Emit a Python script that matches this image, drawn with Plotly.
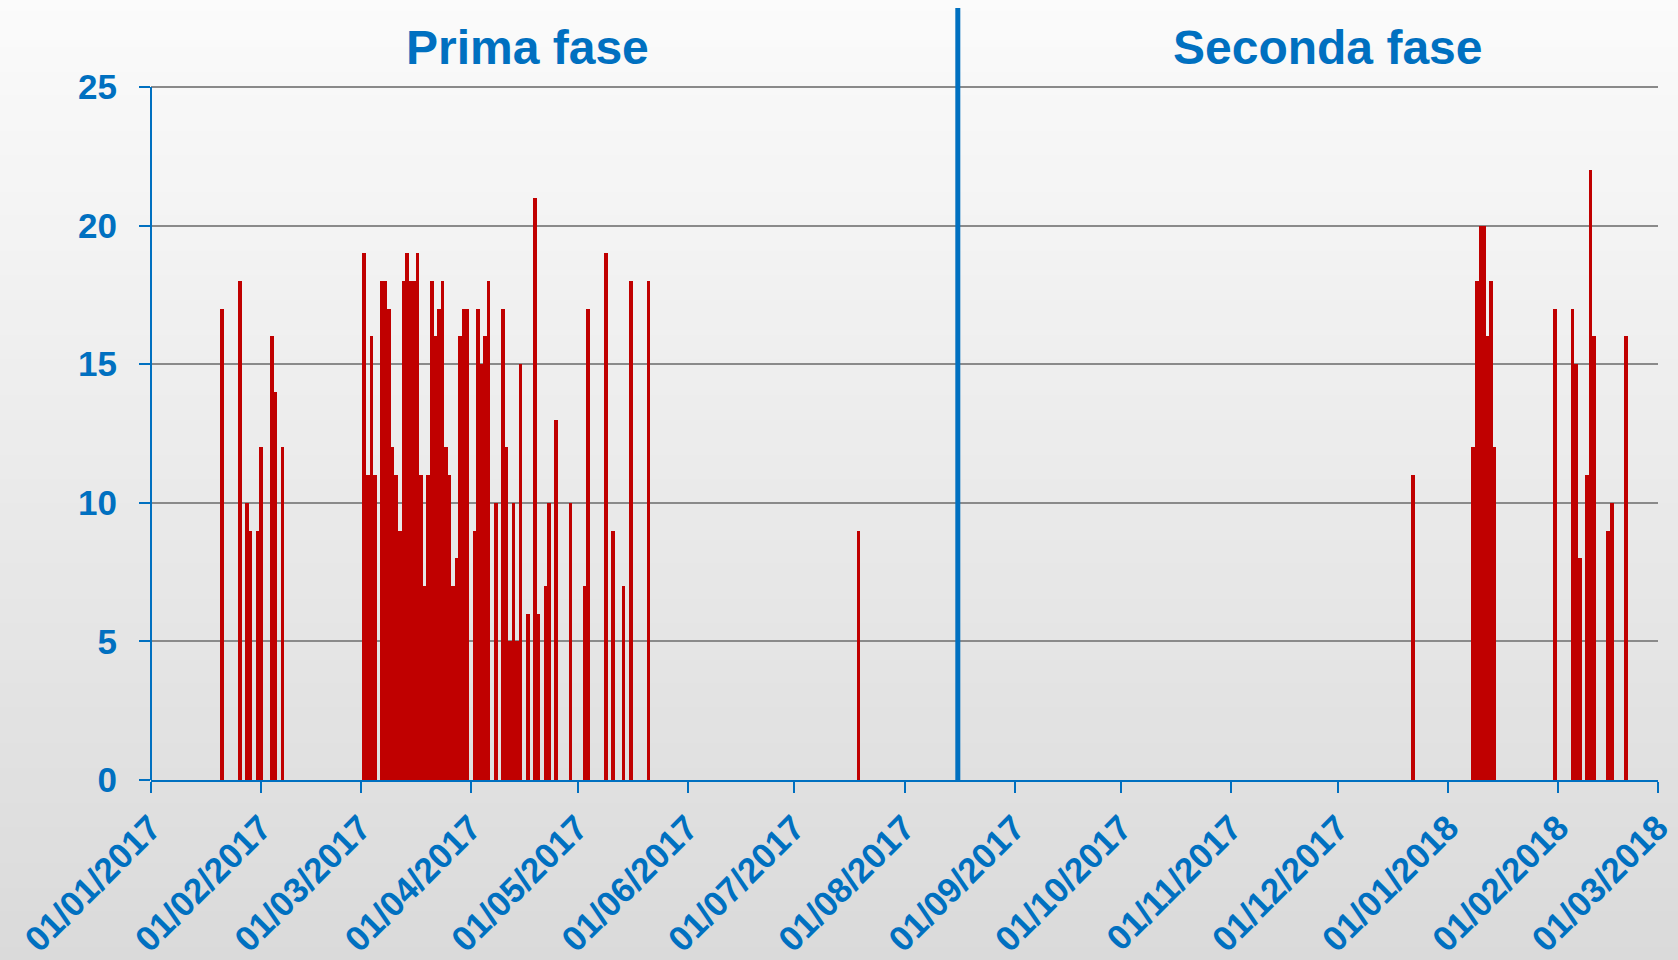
"""
Istogramma giornaliero: prima e seconda fase
"""
import plotly.graph_objects as go

# giorni con valore (prima fase)
date_prima = [
    '2017-01-21', '2017-01-26', '2017-01-28', '2017-01-29', '2017-01-31',
    '2017-02-01', '2017-02-04', '2017-02-05', '2017-02-07',
    '2017-03-02', '2017-03-03', '2017-03-04', '2017-03-05', '2017-03-07',
    '2017-03-08', '2017-03-09', '2017-03-10', '2017-03-11', '2017-03-12',
    '2017-03-13', '2017-03-14', '2017-03-15', '2017-03-16', '2017-03-17',
    '2017-03-18', '2017-03-19', '2017-03-20', '2017-03-21', '2017-03-22',
    '2017-03-23', '2017-03-24', '2017-03-25', '2017-03-26', '2017-03-27',
    '2017-03-28', '2017-03-29', '2017-03-30', '2017-03-31',
    '2017-04-02', '2017-04-03', '2017-04-04', '2017-04-05', '2017-04-06',
    '2017-04-08', '2017-04-10', '2017-04-11', '2017-04-12', '2017-04-13',
    '2017-04-14', '2017-04-15', '2017-04-17', '2017-04-19', '2017-04-20',
    '2017-04-22', '2017-04-23', '2017-04-25', '2017-04-29',
    '2017-05-03', '2017-05-04', '2017-05-09', '2017-05-11', '2017-05-14',
    '2017-05-16', '2017-05-21', '2017-07-19',
]
valori_prima = [
    17, 18, 10, 9, 9,
    12, 16, 14, 12,
    19, 11, 16, 11, 18,
    18, 17, 12, 11, 9,
    18, 19, 18, 18, 19,
    11, 7, 11, 18, 16,
    17, 18, 12, 11, 7,
    8, 16, 17, 17,
    9, 17, 15, 16, 18,
    10, 17, 12, 5, 10,
    5, 15, 6, 21, 6,
    7, 10, 13, 10,
    7, 17, 19, 9, 7,
    18, 18, 9,
]

# giorni con valore (seconda fase)
date_seconda = [
    '2017-12-22',
    '2018-01-08', '2018-01-09', '2018-01-10', '2018-01-11', '2018-01-12',
    '2018-01-13', '2018-01-14', '2018-01-31',
    '2018-02-05', '2018-02-06', '2018-02-07', '2018-02-09', '2018-02-10',
    '2018-02-11', '2018-02-15', '2018-02-16', '2018-02-20',
]
valori_seconda = [
    11,
    12, 18, 20, 20, 16,
    18, 12, 17,
    17, 15, 8, 11, 22,
    16, 9, 10, 16,
]

data_separazione = '2017-08-16'
titoli_fasi = ['Prima fase', 'Seconda fase']
y_ticks = [0, 5, 10, 15, 20, 25]
x_inizio, x_fine = '2017-01-01', '2018-03-01'

BLU = '#0070C0'
ROSSO = '#C00000'
FONT = 'Arial, Liberation Sans, sans-serif'

W, H = 1678, 960
M = dict(l=151, r=20, t=8, b=180)
Y_MAX = 27.85

fig = go.Figure()

fig.add_trace(go.Bar(
    x=date_prima + date_seconda,
    y=valori_prima + valori_seconda,
    width=86400000,
    marker=dict(color=ROSSO, line=dict(width=0)),
    showlegend=False,
))

# sfondo sfumato (bande orizzontali)
alt_plot = H - M['t'] - M['b']
larg_plot = W - M['l'] - M['r']
n_bande = 80
shapes = []
for i in range(n_bande):
    top_px = i * H / n_bande
    bot_px = (i + 1) * H / n_bande
    f = (i + 0.5) / n_bande
    g = round(251 - f * (251 - 218))
    shapes.append(dict(
        type='rect', xref='paper', yref='paper', layer='below',
        x0=-M['l'] / larg_plot - 0.01,
        x1=1 + M['r'] / larg_plot + 0.01,
        y0=(H - M['b'] - bot_px) / alt_plot - 0.001,
        y1=(H - M['b'] - top_px) / alt_plot + 0.001,
        fillcolor=f'rgb({g},{g},{g})', line=dict(width=0),
    ))

# asse y (linea fino a 25)
shapes.append(dict(type='line', xref='paper', yref='y', x0=0, x1=0,
                   y0=0, y1=y_ticks[-1], line=dict(color=BLU, width=2)))
# separazione tra le fasi
shapes.append(dict(type='line', xref='x', yref='y',
                   x0=data_separazione, x1=data_separazione,
                   y0=0, y1=Y_MAX, line=dict(color=BLU, width=5)))

annotations = []
for testo, xp in zip(titoli_fasi, [0.2499, 0.781]):
    annotations.append(dict(
        text=testo, xref='paper', yref='paper', x=xp,
        y=(H - M['b'] - 48) / alt_plot,
        xanchor='center', yanchor='middle', showarrow=False,
        font=dict(family=FONT, size=48, color=BLU, weight='bold'),
    ))

fig.update_layout(
    width=W, height=H,
    margin=M,
    template='none',
    paper_bgcolor='#e6e6e6',
    plot_bgcolor='rgba(0,0,0,0)',
    bargap=0,
    shapes=shapes,
    annotations=annotations,
    font=dict(family=FONT, color=BLU),
    xaxis=dict(
        type='date',
        range=[x_inizio, x_fine],
        tick0=x_inizio, dtick='M1',
        tickformat='%d/%m/%Y',
        tickangle=-45,
        tickfont=dict(family=FONT, size=35, color=BLU, weight='bold'),
        showline=True, linecolor=BLU, linewidth=2,
        ticks='outside', ticklen=11, tickwidth=2, tickcolor=BLU,
        showgrid=False, zeroline=False, automargin=False,
    ),
    yaxis=dict(
        range=[0, Y_MAX],
        tickmode='array', tickvals=y_ticks,
        tickfont=dict(family=FONT, size=35, color=BLU, weight='bold'),
        showgrid=True, gridcolor='#8a8a8a', gridwidth=2,
        showline=False, zeroline=False,
        ticks='outside', ticklen=11, tickwidth=2, tickcolor=BLU,
        ticklabelstandoff=15, automargin=False,
    ),
)

fig.write_html(
    "out.html",
    config={'displayModeBar': False},
    post_script="document.body.style.margin='0';document.body.style.padding='0';",
)
